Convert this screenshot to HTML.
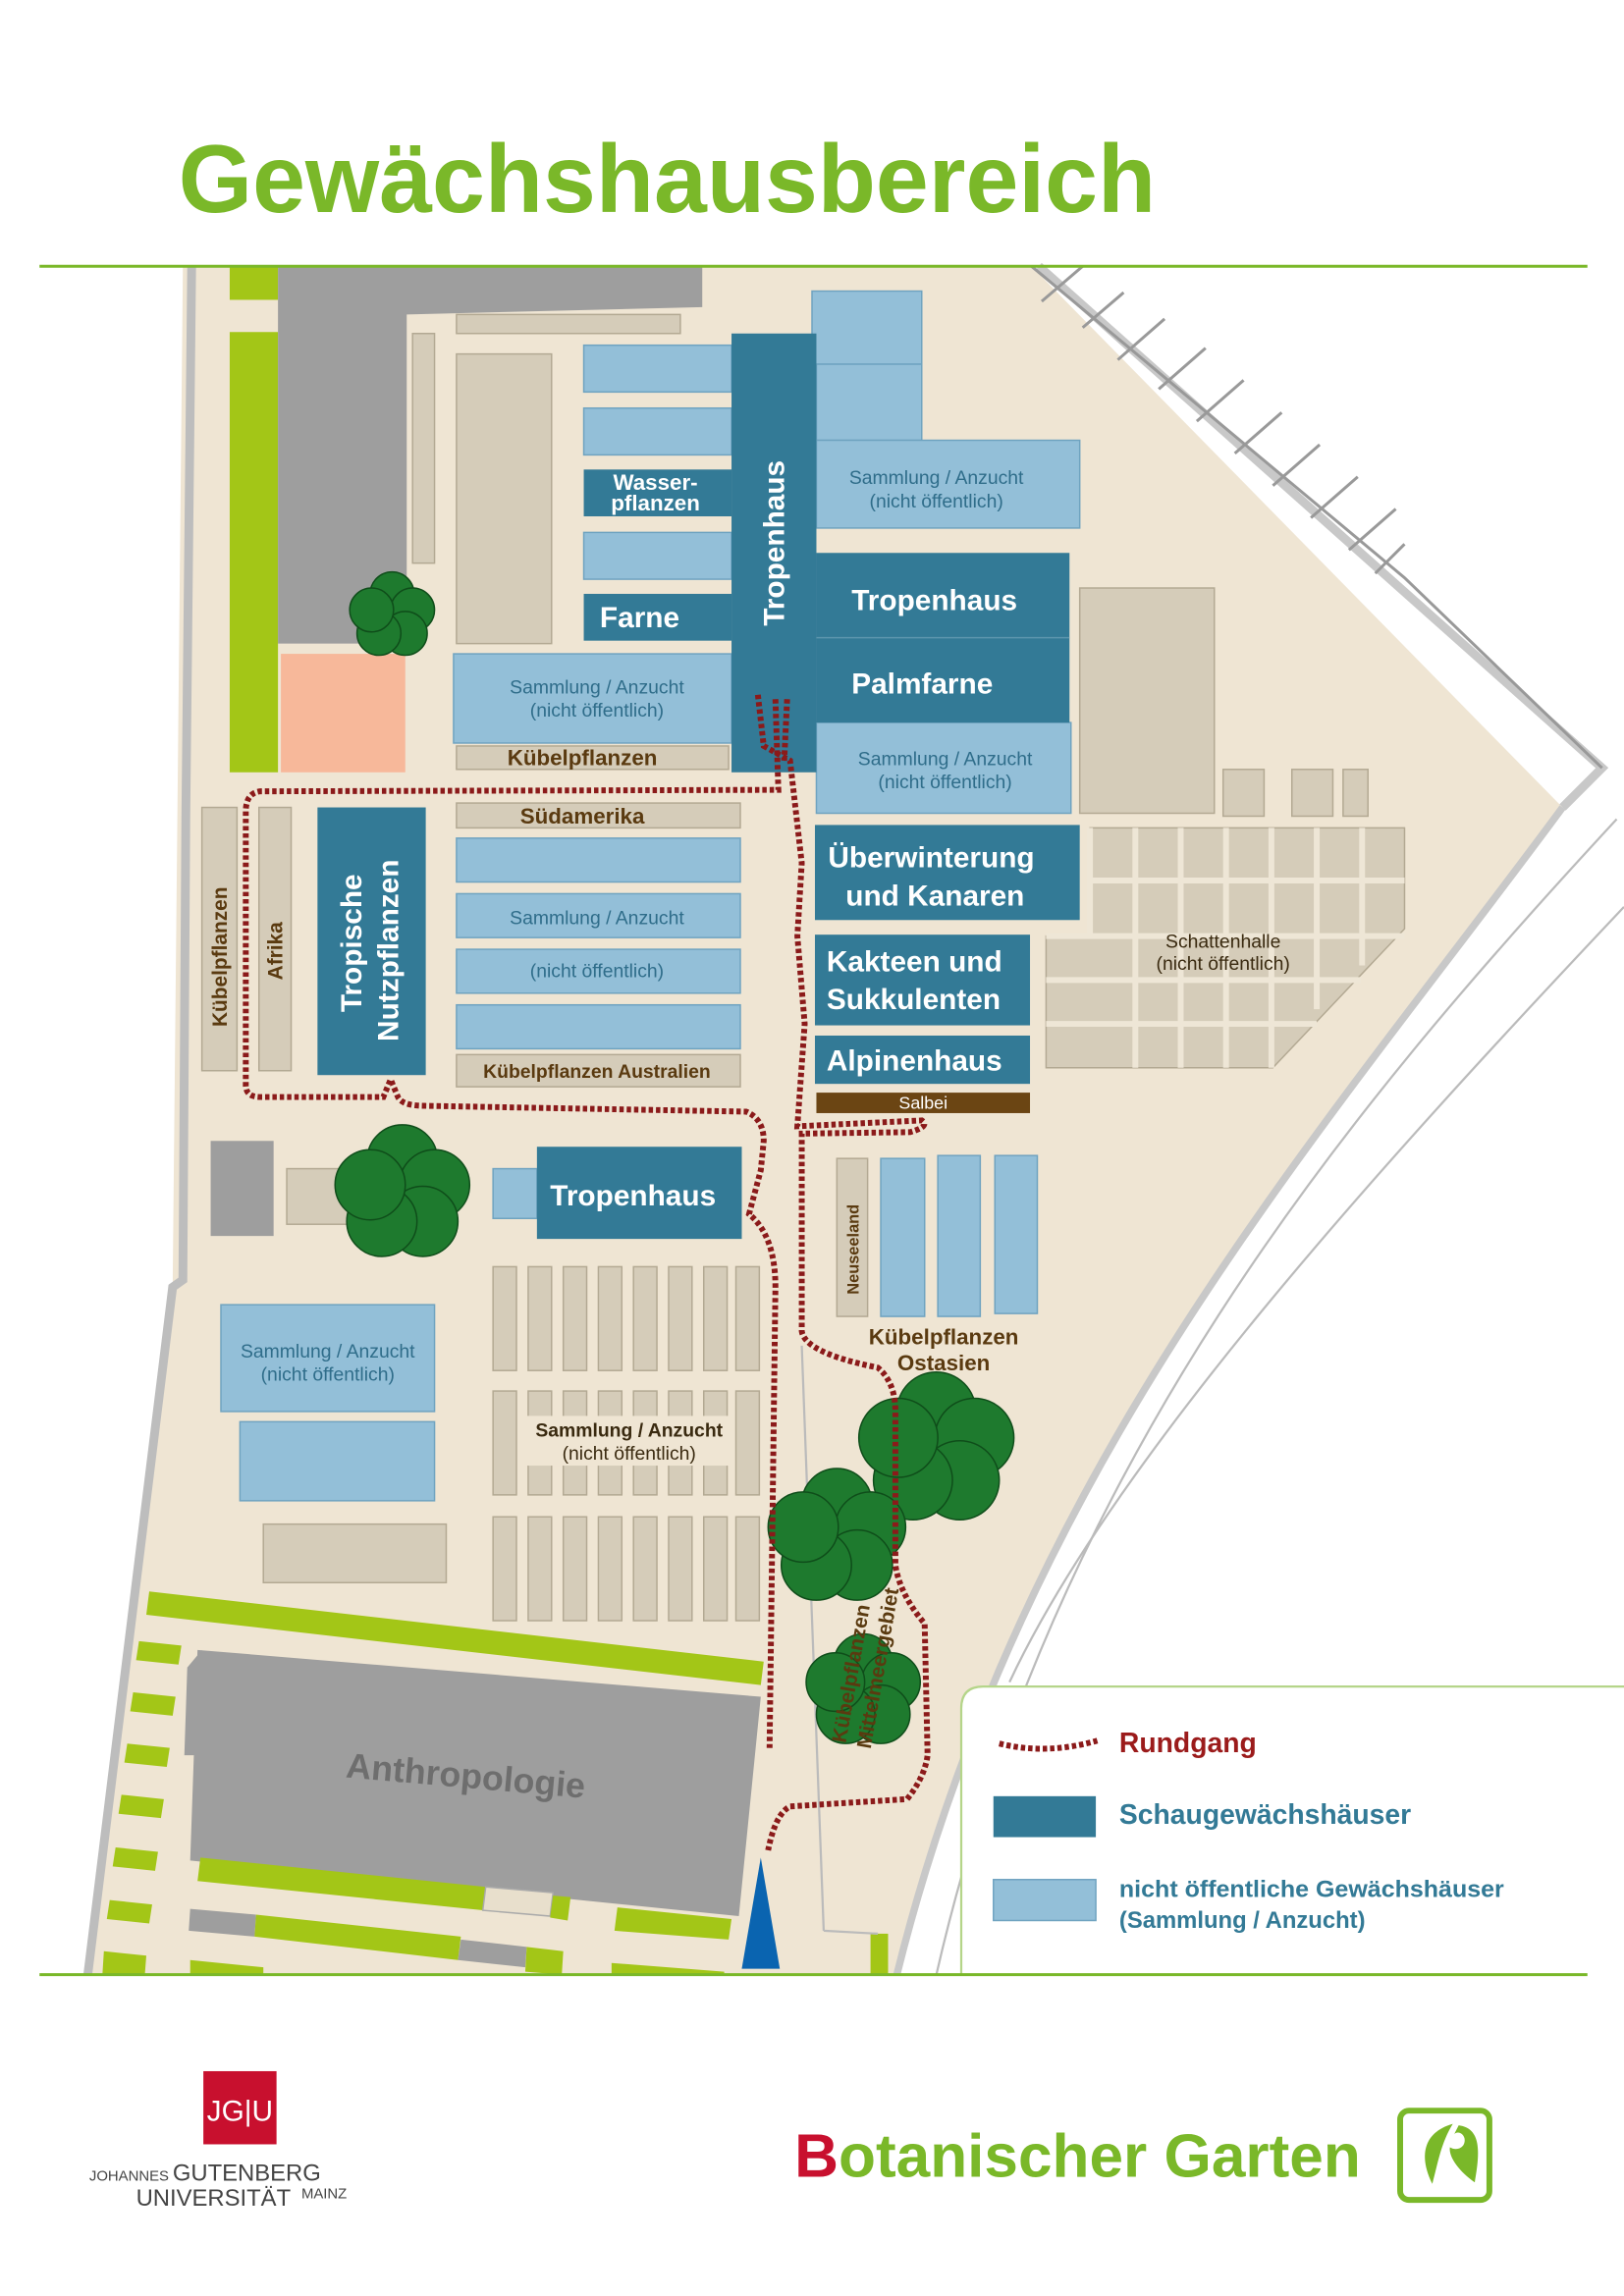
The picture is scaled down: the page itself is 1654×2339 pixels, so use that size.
<!DOCTYPE html>
<html><head><meta charset="utf-8"><style>
html,body{margin:0;padding:0;background:#fff}
svg{display:block}
text{font-family:"Liberation Sans",sans-serif}
</style></head><body>
<svg width="1654" height="2339" viewBox="0 0 1110 1569.7" xmlns="http://www.w3.org/2000/svg">
<rect width="1110" height="1570" fill="#fff"/>
<text x="122" y="145" font-size="66" font-weight="bold" fill="#7ab829" textLength="668" lengthAdjust="spacingAndGlyphs">Gewächshausbereich</text>

<!-- map background -->
<path d="M131,182 L705,182 L1068,552 C900,780 700,1000 613,1350 L60,1350 L118,880 L125,182 Z" fill="#efe5d3"/>
<path d="M131,182 L127,560 L125,875 L118,880 L60,1350" fill="none" stroke="#bdbdbd" stroke-width="6"/>
<path d="M710,182 L1095,525 L1068,552" fill="none" stroke="#c8c8c8" stroke-width="6"/>
<path d="M1068,552 C900,780 700,1000 613,1350" fill="none" stroke="#c8c8c8" stroke-width="5"/>
<path d="M1105,560 C920,760 720,1000 640,1350" fill="none" stroke="#bbb" stroke-width="1.5"/>
<path d="M1110,620 C940,800 760,1000 690,1150" fill="none" stroke="#bbb" stroke-width="1.5"/>
<!-- parking -->
<g stroke="#999" stroke-width="2" fill="none">
<path d="M705,182 L960,395 L1095,525"/>
<path d="M740,182 L712,206 M768,200 L740,224 M796,218 L764,246 M824,238 L792,266 M850,260 L818,288 M876,282 L844,310 M902,304 L870,332 M928,326 L896,354 M954,348 L922,376 M960,372 L940,392"/>
</g>

<!-- green strips -->
<rect x="157" y="182" width="33" height="23" fill="#a3c617"/>
<rect x="157" y="227" width="33" height="301" fill="#a3c617"/>
<path d="M190,182 L480,182 L480,210 L278,215 L278,440 L190,440 Z" fill="#9e9e9e"/>
<rect x="192" y="447" width="85" height="81" fill="#f7b89a"/>

<g fill="#d5ccb9" stroke="#b3a993" stroke-width="1">
<rect x="312" y="215" width="153" height="13"/>
<rect x="282" y="228" width="15" height="157"/>
<rect x="312" y="242" width="65" height="198"/>
<rect x="312" y="510" width="186" height="16"/>
<rect x="738" y="402" width="92" height="154"/>
<rect x="836" y="526" width="28" height="32"/>
<rect x="883" y="526" width="28" height="32"/>
<rect x="918" y="526" width="17" height="32"/>
<rect x="312" y="549" width="194" height="17"/>
<rect x="312" y="721" width="194" height="22"/>
<rect x="138" y="552" width="24" height="180"/>
<rect x="177" y="552" width="22" height="180"/>
<rect x="196" y="799" width="44" height="38"/>
<rect x="572" y="792" width="21" height="108"/>
<rect x="180" y="1042" width="125" height="40"/>
</g>
<!-- Schattenhalle -->
<path d="M745,566 L960,566 L960,635 L870,730 L715,730 L715,640 L745,640 Z" fill="#d5ccb9" stroke="#b3a993"/>
<g stroke="#eee6d6" stroke-width="4">
<path d="M776,566 V730 M807,566 V730 M838,566 V730 M869,566 V730 M900,566 V690 M931,566 V660 M745,566 V640"/>
<path d="M745,602 H960 M715,640 H960 M715,670 H930 M715,700 H900"/>
</g>
<text x="836" y="648" font-size="13" fill="#3a2a10" text-anchor="middle">Schattenhalle</text>
<text x="836" y="663" font-size="13" fill="#3a2a10" text-anchor="middle">(nicht öffentlich)</text>

<!-- light blue -->
<g fill="#93bfd8" stroke="#6fa3c0" stroke-width="1">
<rect x="399" y="236" width="101" height="32"/>
<rect x="399" y="279" width="101" height="32"/>
<rect x="399" y="364" width="101" height="32"/>
<rect x="555" y="199" width="75" height="50"/>
<rect x="558" y="249" width="72" height="52"/>
<rect x="558" y="301" width="180" height="60"/>
<rect x="558" y="494" width="174" height="62"/>
<rect x="310" y="447" width="190" height="61"/>
<rect x="312" y="573" width="194" height="30"/>
<rect x="312" y="611" width="194" height="30"/>
<rect x="312" y="649" width="194" height="30"/>
<rect x="312" y="687" width="194" height="30"/>
<rect x="337" y="799" width="30" height="34"/>
<rect x="602" y="792" width="30" height="108"/>
<rect x="641" y="790" width="29" height="110"/>
<rect x="680" y="790" width="29" height="108"/>
<rect x="151" y="892" width="146" height="73"/>
<rect x="164" y="972" width="133" height="54"/>
</g>
<g font-size="13" fill="#2f6d8a" text-anchor="middle">
<text x="640" y="331">Sammlung / Anzucht</text><text x="640" y="347">(nicht öffentlich)</text>
<text x="646" y="523">Sammlung / Anzucht</text><text x="646" y="539">(nicht öffentlich)</text>
<text x="408" y="474">Sammlung / Anzucht</text><text x="408" y="490">(nicht öffentlich)</text>
<text x="408" y="632">Sammlung / Anzucht</text>
<text x="408" y="668">(nicht öffentlich)</text>
<text x="224" y="928">Sammlung / Anzucht</text><text x="224" y="944">(nicht öffentlich)</text>
</g>

<!-- dark teal -->
<g fill="#337a96">
<rect x="399" y="321" width="101" height="32"/>
<rect x="399" y="406" width="101" height="32"/>
<rect x="500" y="228" width="58" height="300"/>
<rect x="558" y="378" width="173" height="58"/>
<rect x="558" y="436" width="173" height="58"/>
<rect x="217" y="552" width="74" height="183"/>
<rect x="557" y="564" width="181" height="65"/>
<rect x="557" y="639" width="147" height="62"/>
<rect x="557" y="708" width="147" height="33"/>
<rect x="367" y="784" width="140" height="63"/>
</g>
<line x1="558" y1="436" x2="731" y2="436" stroke="#5c95ad"/>
<rect x="558" y="747" width="146" height="14" fill="#6b4513"/>
<g fill="#fff" font-weight="bold">
<text x="448" y="335" font-size="15" text-anchor="middle">Wasser-</text>
<text x="448" y="349" font-size="15" text-anchor="middle">pflanzen</text>
<text x="410" y="429" font-size="20">Farne</text>
<text x="582" y="417" font-size="20">Tropenhaus</text>
<text x="582" y="474" font-size="20">Palmfarne</text>
<text x="566" y="593" font-size="20">Überwinterung</text>
<text x="578" y="619" font-size="20">und Kanaren</text>
<text x="565" y="664" font-size="20">Kakteen und</text>
<text x="565" y="690" font-size="20">Sukkulenten</text>
<text x="565" y="732" font-size="20">Alpinenhaus</text>
<text x="376" y="824" font-size="20">Tropenhaus</text>
<text x="631" y="758" font-size="12" text-anchor="middle" font-weight="normal">Salbei</text>
<text transform="translate(536,428) rotate(-90)" font-size="20">Tropenhaus</text>
<text transform="translate(247,692) rotate(-90)" font-size="20">Tropische</text>
<text transform="translate(272,712) rotate(-90)" font-size="20">Nutzpflanzen</text>
</g>
<g fill="#5a3a10" font-weight="bold">
<text x="398" y="523" font-size="15" text-anchor="middle">Kübelpflanzen</text>
<text x="398" y="563" font-size="15" text-anchor="middle">Südamerika</text>
<text x="408" y="737" font-size="13" text-anchor="middle">Kübelpflanzen Australien</text>
<text transform="translate(155,702) rotate(-90)" font-size="14">Kübelpflanzen</text>
<text transform="translate(193,670) rotate(-90)" font-size="14">Afrika</text>
<text transform="translate(587,885) rotate(-90)" font-size="11">Neuseeland</text>
<text x="645" y="919" font-size="15" text-anchor="middle">Kübelpflanzen</text>
<text x="645" y="937" font-size="15" text-anchor="middle">Ostasien</text>
</g>
<rect x="144" y="780" width="43" height="65" fill="#9e9e9e"/>

<!-- column grid -->
<g fill="#d5ccb9" stroke="#b3a993">
<rect x="337" y="866" width="16" height="71"/><rect x="361" y="866" width="16" height="71"/><rect x="385" y="866" width="16" height="71"/><rect x="409" y="866" width="16" height="71"/><rect x="433" y="866" width="16" height="71"/><rect x="457" y="866" width="16" height="71"/><rect x="481" y="866" width="16" height="71"/><rect x="503" y="866" width="16" height="71"/>
<rect x="337" y="951" width="16" height="71"/><rect x="361" y="951" width="16" height="71"/><rect x="385" y="951" width="16" height="71"/><rect x="409" y="951" width="16" height="71"/><rect x="433" y="951" width="16" height="71"/><rect x="457" y="951" width="16" height="71"/><rect x="481" y="951" width="16" height="71"/><rect x="503" y="951" width="16" height="71"/>
<rect x="337" y="1037" width="16" height="71"/><rect x="361" y="1037" width="16" height="71"/><rect x="385" y="1037" width="16" height="71"/><rect x="409" y="1037" width="16" height="71"/><rect x="433" y="1037" width="16" height="71"/><rect x="457" y="1037" width="16" height="71"/><rect x="481" y="1037" width="16" height="71"/><rect x="503" y="1037" width="16" height="71"/>
</g>
<rect x="358" y="968" width="142" height="34" fill="#efe5d3"/>
<text x="430" y="982" font-size="13" fill="#3a2a10" text-anchor="middle" font-weight="bold">Sammlung / Anzucht</text>
<text x="430" y="998" font-size="13" fill="#3a2a10" text-anchor="middle">(nicht öffentlich)</text>

<!-- bottom area -->
<path d="M102,1088 L522,1136 L520,1152 L100,1104 Z" fill="#a3c617"/>
<path d="M135,1128 L520,1160 L505,1310 L130,1272 Z" fill="#9e9e9e"/>
<path d="M128,1140 L138,1128 L135,1200 L126,1200 Z" fill="#9e9e9e"/>
<text transform="translate(236,1215) rotate(5)" font-size="24" font-weight="bold" fill="#6e6e6e">Anthropologie</text>
<path d="M137,1270 L332,1290 L330,1306 L135,1286 Z" fill="#a3c617"/>
<path d="M332,1290 L378,1294 L376,1310 L330,1306 Z" fill="#e8dfcc" stroke="#aaa"/>
<path d="M378,1296 L390,1297 L388,1313 L376,1311 Z" fill="#a3c617"/>
<path d="M130,1305 L175,1309 L174,1324 L129,1320 Z" fill="#9e9e9e"/>
<path d="M175,1309 L315,1324 L313,1340 L174,1324 Z" fill="#a3c617"/>
<path d="M315,1326 L360,1331 L359,1345 L313,1340 Z" fill="#9e9e9e"/>
<path d="M360,1331 L385,1334 L384,1350 L359,1348 Z" fill="#a3c617"/>
<path d="M422,1304 L500,1312 L498,1326 L420,1320 Z" fill="#a3c617"/>
<path d="M418,1342 L495,1348 L495,1350 L418,1350 Z" fill="#a3c617"/>
<path d="M130,1340 L180,1345 L180,1350 L130,1350 Z" fill="#a3c617"/>
<g fill="#a3c617">
<path d="M95,1122 L124,1125 L122,1138 L93,1135 Z"/>
<path d="M91,1157 L120,1160 L118,1173 L89,1170 Z"/>
<path d="M87,1192 L116,1195 L114,1208 L85,1205 Z"/>
<path d="M83,1227 L112,1230 L110,1243 L81,1240 Z"/>
<path d="M79,1263 L108,1266 L106,1279 L77,1276 Z"/>
<path d="M75,1299 L104,1302 L102,1315 L73,1312 Z"/>
<path d="M71,1334 L100,1337 L99,1350 L70,1350 Z"/>
<rect x="595" y="1322" width="12" height="28"/>
</g>
<path d="M548,920 L563,1320 M563,1320 L600,1322" stroke="#bbb" stroke-width="1.5" fill="none"/>
<path d="M507,1346 L520,1270 L533,1346 Z" fill="#0a64b0"/>

<!-- trees -->
<g fill="#1e7a2e" stroke="#0f4d1a" stroke-width="1">
<g transform="translate(268,420)"><circle cx="0" cy="-14" r="15"/><circle cx="14" cy="-3" r="15"/><circle cx="9" cy="13" r="15"/><circle cx="-9" cy="13" r="15"/><circle cx="-14" cy="-3" r="15"/></g>
<g transform="translate(275,815)"><circle cx="0" cy="-22" r="24"/><circle cx="22" cy="-5" r="24"/><circle cx="14" cy="20" r="24"/><circle cx="-14" cy="20" r="24"/><circle cx="-22" cy="-5" r="24"/></g>
<g transform="translate(640,990)"><circle cx="0" cy="-25" r="27"/><circle cx="26" cy="-7" r="27"/><circle cx="16" cy="22" r="27"/><circle cx="-16" cy="22" r="27"/><circle cx="-26" cy="-7" r="27"/></g>
<g transform="translate(572,1050)"><circle cx="0" cy="-22" r="24"/><circle cx="23" cy="-6" r="24"/><circle cx="14" cy="20" r="24"/><circle cx="-14" cy="20" r="24"/><circle cx="-23" cy="-6" r="24"/></g>
<g transform="translate(590,1155)"><circle cx="0" cy="-18" r="20"/><circle cx="19" cy="-5" r="20"/><circle cx="12" cy="17" r="20"/><circle cx="-12" cy="17" r="20"/><circle cx="-19" cy="-5" r="20"/></g>
</g>
<text transform="translate(578,1192) rotate(-80)" font-size="14" font-weight="bold" fill="#5a3a10">Kübelpflanzen</text>
<text transform="translate(595,1196) rotate(-80)" font-size="14" font-weight="bold" fill="#5a3a10">Mittelmeergebiet</text>

<!-- Rundgang -->
<g fill="none" stroke="#8b1a1a" stroke-width="4" stroke-dasharray="3 2">
<path d="M530,478 L532,540 L178,541 Q168,542 168,555 L168,742 Q168,750 178,750 L262,750 L267,738 L272,750 Q275,756 290,756 L510,760 Q522,765 522,780 L520,800 L512,830 Q530,845 530,880 L526,1195"/>
<path d="M518,475 L522,510 L540,520 L548,590 L545,640 L550,700 L545,770 L630,766 Q636,770 622,774 L548,775 L548,910 Q550,925 600,935 Q612,945 612,965 L612,1070 Q615,1090 632,1110 L634,1200 Q632,1215 620,1230 L540,1235 Q530,1240 525,1265"/>
<path d="M538,478 L536,520"/>
</g>

<!-- legend -->
<path d="M1110,1153 L672,1153 Q657,1153 657,1168 L657,1350" fill="#fff" stroke="#b5d58a" stroke-width="1.5"/>
<path d="M683,1192 Q715,1200 750,1190" fill="none" stroke="#8b1a1a" stroke-width="4" stroke-dasharray="3 2"/>
<text x="765" y="1198" font-size="19" font-weight="bold" fill="#9b1b1b">Rundgang</text>
<rect x="679" y="1228" width="70" height="28" fill="#337a96"/>
<text x="765" y="1247" font-size="19" font-weight="bold" fill="#337a96">Schaugewächshäuser</text>
<rect x="679" y="1285" width="70" height="28" fill="#93bfd8" stroke="#6fa3c0"/>
<text x="765" y="1297" font-size="16" font-weight="bold" fill="#337a96" textLength="263" lengthAdjust="spacingAndGlyphs">nicht öffentliche Gewächshäuser</text>
<text x="765" y="1318" font-size="16" font-weight="bold" fill="#337a96">(Sammlung / Anzucht)</text>

<line x1="27" y1="182" x2="1085" y2="182" stroke="#7ab829" stroke-width="2"/>
<line x1="27" y1="1350" x2="1085" y2="1350" stroke="#7ab829" stroke-width="2"/>

<!-- logos -->
<rect x="139" y="1416" width="50" height="50" fill="#c8102e"/>
<text x="164" y="1450" font-size="20" fill="#fff" text-anchor="middle" font-family="Liberation Serif,serif">JG|U</text>
<text x="61" y="1491" font-size="10" fill="#444">JOHANNES</text>
<text x="118" y="1491" font-size="16" fill="#444">GUTENBERG</text>
<text x="93" y="1508" font-size="16" fill="#444">UNIVERSITÄT</text>
<text x="206" y="1503" font-size="10" fill="#444">MAINZ</text>
<text x="543" y="1488" font-size="42" font-weight="bold" fill="#7ab829" textLength="387" lengthAdjust="spacingAndGlyphs"><tspan fill="#c8102e">B</tspan>otanischer Garten</text>
<rect x="957" y="1443" width="61" height="61" rx="6" fill="none" stroke="#7ab829" stroke-width="4"/>
<path d="M979,1493 C970,1475 972,1458 993,1452 C985,1465 983,1478 979,1493 Z M997,1453 C1012,1455 1012,1470 1008,1492 C998,1485 990,1475 991,1468 C996,1471 1002,1468 1001,1462 C1000,1458 996,1457 994,1459 Z" fill="#7ab829"/>
</svg>
</body></html>
